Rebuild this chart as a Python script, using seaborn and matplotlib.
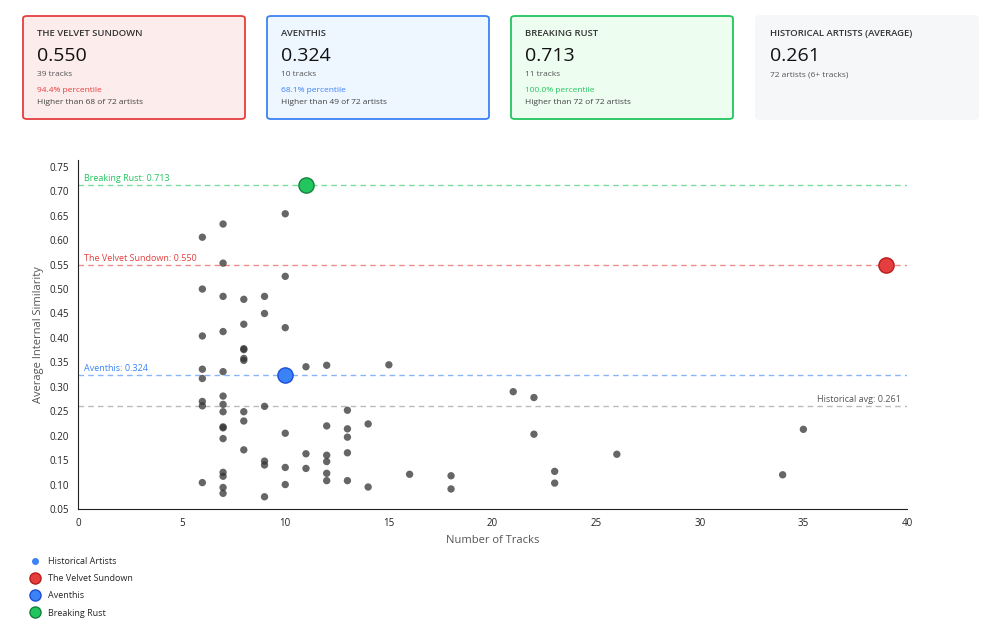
import matplotlib
matplotlib.use('Agg')
import matplotlib.pyplot as plt
from matplotlib.patches import FancyBboxPatch
from matplotlib.lines import Line2D
import seaborn as sns
import pandas as pd

# Historical artists: (tracks, similarity)
hist_tracks = [6]*8 + [7]*15 + [8]*9 + [9]*6 + [10]*6 + [11]*3 + [12]*6 + [13]*5 + [14]*2 \
    + [15, 16, 18, 18, 21, 22, 22, 23, 23, 26, 34, 35]
hist_sim = [0.606, 0.500, 0.404, 0.336, 0.317, 0.270, 0.261, 0.104,
            0.633, 0.553, 0.485, 0.413, 0.331, 0.281, 0.264, 0.249, 0.218, 0.216, 0.194, 0.125, 0.117, 0.094, 0.082,
            0.479, 0.428, 0.378, 0.376, 0.358, 0.354, 0.249, 0.230, 0.171,
            0.485, 0.450, 0.260, 0.148, 0.140, 0.075,
            0.654, 0.526, 0.421, 0.205, 0.135, 0.100,
            0.341, 0.163, 0.133,
            0.344, 0.220, 0.160, 0.147, 0.123, 0.108,
            0.252, 0.214, 0.197, 0.165, 0.108,
            0.224, 0.095,
            0.345, 0.121, 0.118, 0.091, 0.290, 0.278, 0.203, 0.127, 0.103, 0.162, 0.120, 0.213]

artists = ['The Velvet Sundown', 'Aventhis', 'Breaking Rust']
artist_tracks = [39, 10, 11]
artist_sim = [0.550, 0.324, 0.713]
artist_colors = ['#e53e3e', '#3b82f6', '#22c55e']
edge_colors = ['#b91c1c', '#1d4ed8', '#15803d']
card_bg = ['#fdecec', '#eef6ff', '#edfdf0']
percentiles = ['94.4% percentile', '68.1% percentile', '100.0% percentile']
higher = ['Higher than 68 of 72 artists', 'Higher than 49 of 72 artists', 'Higher than 72 of 72 artists']
hist_avg = 0.261

sns.set_style('white')
plt.rcParams['font.family'] = ['Open Sans', 'DejaVu Sans']

W, H = 1000, 638
fig = plt.figure(figsize=(10, 6.38), dpi=100)
ax = fig.add_axes([78 / W, 1 - 509 / H, (907 - 78) / W, (509 - 160) / H])

df = pd.DataFrame({'tracks': hist_tracks, 'sim': hist_sim})
sns.scatterplot(data=df, x='tracks', y='sim', ax=ax, color='#333333', alpha=0.75,
                s=28, edgecolor='none', zorder=3)

for name, t, s, c, ec in zip(artists, artist_tracks, artist_sim, artist_colors, edge_colors):
    ax.axhline(s, color=c, ls=(0, (4, 3)), lw=1, alpha=0.6, zorder=1)
    ax.text(0.3, s + 0.004, f'{name}: {s:.3f}', color=c, fontsize=6.5, va='bottom')
    sns.scatterplot(x=[t], y=[s], ax=ax, color=c, s=120, edgecolor=ec, linewidth=1, zorder=4)
ax.axhline(hist_avg, color='#bbbbbb', ls=(0, (4, 3)), lw=1, zorder=1)
ax.text(39.7, hist_avg + 0.004, f'Historical avg: {hist_avg:.3f}', color='#555555',
        fontsize=6.5, ha='right', va='bottom')

ax.set_xlim(0, 40)
ax.set_ylim(0.05, 0.764)
ax.set_yticks([0.05 + 0.05 * i for i in range(15)])
ax.set_yticklabels([f'{0.05 + 0.05 * i:.2f}' for i in range(15)])
ax.tick_params(labelsize=7, length=3, colors='#222222')
ax.set_xlabel('Number of Tracks', fontsize=8, color='#555555')
ax.set_ylabel('Average Internal Similarity', fontsize=8, color='#555555')
for sp in ['top', 'right']:
    ax.spines[sp].set_visible(False)
for sp in ['left', 'bottom']:
    ax.spines[sp].set_color('#222222')

# Summary cards
cards_x = [23, 267, 511, 756]
titles = [a.upper() for a in artists] + ['HISTORICAL ARTISTS (AVERAGE)']
values = artist_sim + [hist_avg]
subs = [f'{t} tracks' for t in artist_tracks] + ['72 artists (6+ tracks)']
for i, x0 in enumerate(cards_x):
    if i < 3:
        fc, ec = card_bg[i], artist_colors[i]
    else:
        fc, ec = '#f6f7f9', '#f6f7f9'
    fig.patches.append(FancyBboxPatch((x0 / W, 1 - 119 / H), 222 / W, 103 / H,
                                      boxstyle='round,pad=0,rounding_size=0.004',
                                      transform=fig.transFigure, fc=fc, ec=ec, lw=1.3))
    tx = (x0 + 14) / W
    fig.text(tx, 1 - 33 / H, titles[i], fontsize=6.8, weight='semibold', color='#333333', va='center')
    fig.text(tx, 1 - 56 / H, f'{values[i]:.3f}', fontsize=14, color='#111111', va='center')
    fig.text(tx, 1 - 75 / H, subs[i], fontsize=6, color='#555555', va='center')
    if i < 3:
        fig.text(tx, 1 - 90 / H, percentiles[i], fontsize=6, color=artist_colors[i], va='center')
        fig.text(tx, 1 - 103 / H, higher[i], fontsize=6, color='#444444', va='center')

# Legend
handles = [Line2D([], [], marker='o', ls='', color='#3b82f6', ms=4)]
handles += [Line2D([], [], marker='o', ls='', color=c, mec=ec, ms=8)
            for c, ec in zip(artist_colors, edge_colors)]
fig.legend(handles, ['Historical Artists'] + artists, loc='upper left',
           bbox_to_anchor=(18 / W, 1 - 549 / H), frameon=False, fontsize=6.5,
           labelspacing=0.9, handletextpad=0.4)

fig.savefig('out.png', dpi=100)
